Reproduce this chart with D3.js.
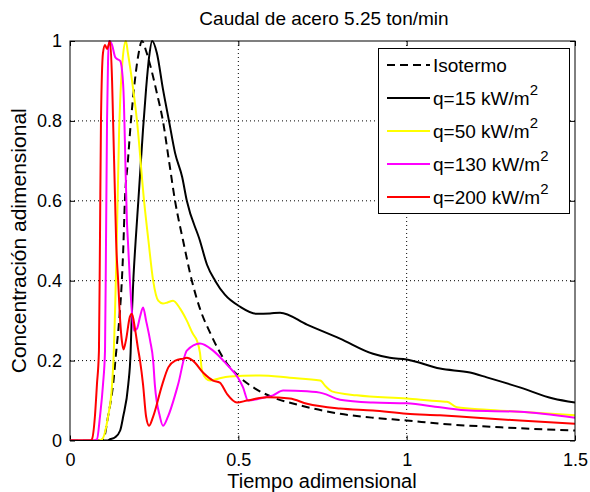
<!DOCTYPE html>
<html><head><meta charset="utf-8">
<script src="https://cdn.jsdelivr.net/npm/d3@7/dist/d3.min.js"></script>
<style>body{margin:0;background:#fff}svg{display:block}text{font-family:"Liberation Sans",Arial,sans-serif}</style>
</head><body><svg id="c" width="590" height="492"></svg>
<script>
const title = "Caudal de acero 5.25 ton/min";
const xLabel = "Tiempo adimensional";
const yLabel = "Concentración adimensional";
const xTicks = [0, 0.5, 1, 1.5];
const yTicks = [0, 0.2, 0.4, 0.6, 0.8, 1];
const seriesNames = ["Isotermo", "q=15 kW/m", "q=50 kW/m", "q=130 kW/m", "q=200 kW/m"];
const seriesColors = ["#000000", "#000000", "#ffff00", "#ff00ff", "#ff0000"];

const isoX = [0,0.09,0.10,0.113,0.128,0.137,0.146,0.154,0.158,0.163,0.172,0.181,0.19,0.202,0.214,0.226,0.238,0.258,0.276,0.294,0.312,0.336,0.362,0.386,0.416,0.46,0.502,0.55,0.603,0.683,0.802,0.9,1.0,1.1,1.28,1.5];
const isoY = [0,0,0.005,0.06,0.14,0.22,0.3,0.4,0.475,0.6,0.7,0.8,0.88,0.96,1.0,0.975,0.94,0.87,0.8,0.7,0.6,0.5,0.4,0.33,0.27,0.2,0.16,0.13,0.108,0.088,0.067,0.057,0.05,0.042,0.033,0.025];

const q15X = [0,0.11,0.119,0.134,0.149,0.158,0.173,0.180,0.183,0.188,0.195,0.203,0.217,0.226,0.235,0.244,0.258,0.276,0.294,0.312,0.333,0.347,0.386,0.407,0.431,0.46,0.505,0.555,0.594,0.624,0.704,0.802,0.9,0.95,1.0,1.099,1.188,1.238,1.336,1.435,1.5];
const q15Y = [0,0,0.003,0.008,0.025,0.06,0.14,0.22,0.3,0.4,0.5,0.6,0.78,0.88,0.96,1.0,0.97,0.88,0.8,0.72,0.66,0.6,0.5,0.44,0.4,0.365,0.335,0.317,0.318,0.32,0.29,0.255,0.217,0.207,0.203,0.18,0.17,0.158,0.133,0.105,0.095];

const q50X = [0,0.083,0.095,0.113,0.125,0.129,0.139,0.146,0.149,0.157,0.166,0.172,0.181,0.199,0.22,0.233,0.247,0.262,0.276,0.288,0.306,0.327,0.347,0.365,0.377,0.386,0.392,0.404,0.416,0.445,0.475,0.564,0.653,0.743,0.76,0.778,0.852,1.0,1.099,1.12,1.149,1.238,1.336,1.5];
const q50Y = [0,0,0.003,0.06,0.14,0.2,0.5,0.78,0.85,0.96,1.0,0.97,0.92,0.8,0.6,0.5,0.4,0.35,0.343,0.345,0.35,0.33,0.3,0.267,0.25,0.22,0.175,0.155,0.15,0.156,0.16,0.163,0.157,0.15,0.135,0.123,0.113,0.105,0.098,0.097,0.083,0.077,0.072,0.063];

const q130X = [0,0.068,0.080,0.089,0.098,0.104,0.107,0.110,0.113,0.116,0.125,0.134,0.140,0.149,0.154,0.160,0.163,0.169,0.172,0.178,0.184,0.190,0.199,0.208,0.217,0.226,0.238,0.247,0.252,0.267,0.276,0.291,0.321,0.347,0.386,0.425,0.466,0.499,0.514,0.529,0.564,0.603,0.633,0.704,0.751,0.802,0.9,1.0,1.099,1.188,1.336,1.5];
const q130Y = [0,0,0.003,0.06,0.14,0.225,0.5,0.8,0.95,1.0,0.99,0.96,0.955,0.95,0.93,0.85,0.75,0.55,0.5,0.4,0.32,0.275,0.28,0.31,0.333,0.3,0.25,0.2,0.14,0.06,0.037,0.06,0.14,0.225,0.243,0.225,0.19,0.157,0.133,0.1,0.105,0.113,0.125,0.123,0.118,0.102,0.095,0.093,0.083,0.075,0.072,0.057];

const q200X = [0,0.059,0.065,0.074,0.080,0.086,0.089,0.092,0.098,0.104,0.110,0.119,0.125,0.128,0.134,0.137,0.143,0.149,0.154,0.159,0.166,0.178,0.184,0.193,0.202,0.208,0.217,0.226,0.235,0.247,0.274,0.292,0.313,0.337,0.347,0.365,0.395,0.425,0.445,0.466,0.496,0.526,0.585,0.653,0.704,0.802,0.9,1.0,1.099,1.188,1.336,1.5];
const q200Y = [0,0,0.003,0.06,0.14,0.225,0.5,0.8,0.97,0.99,0.98,1.0,0.9,0.8,0.6,0.5,0.4,0.3,0.25,0.228,0.25,0.31,0.317,0.28,0.23,0.2,0.14,0.06,0.037,0.06,0.14,0.183,0.2,0.205,0.207,0.2,0.17,0.15,0.145,0.117,0.095,0.1,0.108,0.105,0.092,0.08,0.075,0.067,0.063,0.058,0.05,0.042];

const allX = [isoX, q15X, q50X, q130X, q200X];
const allY = [isoY, q15Y, q50Y, q130Y, q200Y];

const svg = d3.select("#c");
const L = 70, R = 575, T = 41, B = 440.5;
const x = d3.scaleLinear().domain([0, 1.5]).range([L, R]);
const y = d3.scaleLinear().domain([0, 1]).range([B, T]);

// grid
const g = svg.append("g");
g.selectAll(".gx").data(xTicks.filter(v => v > 0 && v < 1.5)).enter().append("line")
  .attr("x1", d => x(d)).attr("x2", d => x(d)).attr("y1", T).attr("y2", B)
  .attr("stroke", "#000").attr("stroke-width", 1).attr("stroke-dasharray", "1,3");
g.selectAll(".gy").data(yTicks.filter(v => v > 0 && v < 1)).enter().append("line")
  .attr("x1", L).attr("x2", R).attr("y1", d => y(d)).attr("y2", d => y(d))
  .attr("stroke", "#000").attr("stroke-width", 1).attr("stroke-dasharray", "1,3");

// axes
const fmt = d => d3.format("~g")(d);
const tickFont = 18;
svg.append("g").attr("transform", `translate(0,${B})`)
  .call(d3.axisBottom(x).tickValues(xTicks).tickFormat(fmt).tickSizeInner(-5).tickSizeOuter(0).tickPadding(13))
  .call(a => a.select(".domain").remove())
  .call(a => a.selectAll("text").attr("font-size", tickFont).attr("fill", "#000").attr("font-family", "Liberation Sans, Arial"));
svg.append("g").attr("transform", `translate(0,${T})`)
  .call(d3.axisTop(x).tickValues(xTicks).tickFormat("").tickSizeInner(-5).tickSizeOuter(0))
  .call(a => a.select(".domain").remove());
svg.append("g").attr("transform", `translate(${L},0)`)
  .call(d3.axisLeft(y).tickValues(yTicks).tickFormat(fmt).tickSizeInner(-5).tickSizeOuter(0).tickPadding(8))
  .call(a => a.select(".domain").remove())
  .call(a => a.selectAll("text").attr("font-size", tickFont).attr("fill", "#000").attr("font-family", "Liberation Sans, Arial"));
svg.append("g").attr("transform", `translate(${R},0)`)
  .call(d3.axisRight(y).tickValues(yTicks).tickFormat("").tickSizeInner(-5).tickSizeOuter(0))
  .call(a => a.select(".domain").remove());

// curves
svg.append("clipPath").attr("id", "clip").append("rect").attr("x", L).attr("y", T - 2).attr("width", R - L).attr("height", B - T + 2);
const line = d3.line().x(d => x(d[0])).y(d => y(d[1])).curve(d3.curveMonotoneX);
[0, 1, 2, 3, 4].forEach(i => {
  const pts = allX[i].map((v, k) => [v, allY[i][k]]);
  svg.append("path").attr("clip-path", "url(#clip)").attr("d", line(pts))
    .attr("fill", "none").attr("stroke", seriesColors[i]).attr("stroke-width", 2)
    .attr("stroke-dasharray", i === 0 ? "8,5" : null);
});

// frame
svg.append("rect").attr("x", L).attr("y", T).attr("width", R - L).attr("height", B - T)
  .attr("fill", "none").attr("stroke", "#000").attr("stroke-width", 1);

// title and labels
svg.append("text").attr("x", 324).attr("y", 25).attr("text-anchor", "middle")
  .attr("font-size", 19).text(title);
svg.append("text").attr("x", 322).attr("y", 488).attr("text-anchor", "middle")
  .attr("font-size", 20).text(xLabel);
svg.append("text").attr("transform", `translate(26,${(T + B) / 2}) rotate(-90)`).attr("text-anchor", "middle")
  .attr("font-size", 21).text(yLabel);

// legend
const lg = svg.append("g");
lg.append("rect").attr("x", 378.5).attr("y", 48.5).attr("width", 191).attr("height", 165)
  .attr("fill", "#fff").attr("stroke", "#000").attr("stroke-width", 1);
seriesNames.forEach((name, i) => {
  const yy = 65 + i * 33;
  lg.append("line").attr("x1", 387).attr("x2", 430).attr("y1", yy).attr("y2", yy)
    .attr("stroke", seriesColors[i]).attr("stroke-width", 2)
    .attr("stroke-dasharray", i === 0 ? "8,5" : null);
  const t = lg.append("text").attr("x", 433).attr("y", yy + 7).attr("font-size", 19);
  t.append("tspan").text(name);
  if (i > 0) t.append("tspan").attr("dy", -10).attr("font-size", 15).text("2");
});
</script></body></html>
